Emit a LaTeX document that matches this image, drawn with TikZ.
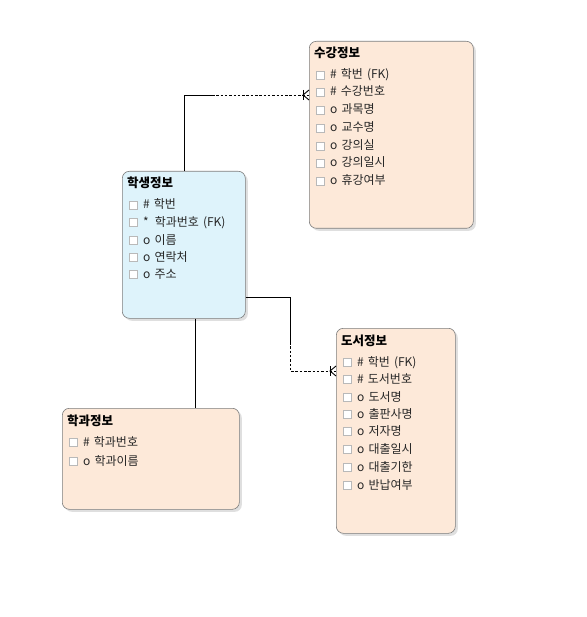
\documentclass[tikz,border=0pt]{standalone}
\usepackage{fontspec}
\setmainfont[WordSpace=1.5]{Noto Sans CJK KR}
\usetikzlibrary{shadows,calc}
\definecolor{peach}{RGB}{253,233,217}
\definecolor{skyf}{RGB}{222,243,251}
\definecolor{bordc}{RGB}{125,125,125}
\definecolor{cbx}{RGB}{185,185,185}
\tikzset{
  ent/.style={draw=bordc, line width=0.6pt, rounded corners=7pt, anchor=north west, inner sep=0pt,
    drop shadow={opacity=0.25, shadow xshift=2.5pt, shadow yshift=-2.5pt}},
  ttl/.style={anchor=base west, inner sep=0pt, font=\fontsize{12.5}{13}\selectfont\bfseries},
  rowt/.style={anchor=base west, inner sep=0pt, font=\fontsize{12}{12}\selectfont, text=black!85},
  cbox/.style={draw=cbx, fill=white, line width=0.5pt, minimum size=8pt, inner sep=0pt, anchor=center},
  conn/.style={line width=0.9pt, black},
  dconn/.style={line width=0.9pt, black, dash pattern=on 2.5pt off 1.8pt},
}
\newcommand{\entrow}[5]{% name, x, y(base), text
  \node[cbox] (#1-cb) at (#2+4,#3-4) {};
  \node[rowt] (#1) at (#2+14,#3) {#4};
}
\begin{document}
\begin{tikzpicture}[x=1pt,y=-1pt]
\useasboundingbox[fill=white] (0,0) rectangle (586,617);

% entities
\node[ent, fill=peach, minimum width=164pt, minimum height=187pt] (su) at (309,41) {};
\node[ent, fill=skyf, minimum width=123pt, minimum height=147pt] (hs) at (122,171) {};
\node[ent, fill=peach, minimum width=119pt, minimum height=205pt] (ds) at (336,328) {};
\node[ent, fill=peach, minimum width=177pt, minimum height=101pt] (hg) at (62,408) {};

% 수강정보
\node[ttl] (su-t) at (314,58) {수강정보};
\entrow{su1}{316}{79}{\# 학번 (FK)}{}
\entrow{su2}{316}{96}{\# 수강번호}{}
\entrow{su3}{316}{114}{o 과목명}{}
\entrow{su4}{316}{132}{o 교수명}{}
\entrow{su5}{316}{150}{o 강의실}{}
\entrow{su6}{316}{167}{o 강의일시}{}
\entrow{su7}{316}{185}{o 휴강여부}{}

% 학생정보
\node[ttl] (hs-t) at (127,188) {학생정보};
\entrow{hs1}{129}{209}{\# 학번}{}
\entrow{hs2}{129}{226}{*\, 학과번호 (FK)}{}
\entrow{hs3}{129}{244}{o 이름}{}
\entrow{hs4}{129}{261}{o 연락처}{}
\entrow{hs5}{129}{278}{o 주소}{}

% 도서정보
\node[ttl] (ds-t) at (341,345) {도서정보};
\entrow{ds1}{343}{366}{\# 학번 (FK)}{}
\entrow{ds2}{343}{383}{\# 도서번호}{}
\entrow{ds3}{343}{401}{o 도서명}{}
\entrow{ds4}{343}{418}{o 출판사명}{}
\entrow{ds5}{343}{435}{o 저자명}{}
\entrow{ds6}{343}{453}{o 대출일시}{}
\entrow{ds7}{343}{471}{o 대출기한}{}
\entrow{ds8}{343}{489}{o 반납여부}{}

% 학과정보
\node[ttl] (hg-t) at (67,425) {학과정보};
\entrow{hg1}{69}{446}{\# 학과번호}{}
\entrow{hg2}{69}{465}{o 학과이름}{}

% connector 학생정보 -> 수강정보
\coordinate (a0) at ($(hs.north west)+(62,0)$);
\coordinate (a1) at (184,95);
\coordinate (a2) at (212,95);
\coordinate (a3) at (su.west |- a1);
\coordinate (a4) at ($(a3)+(-6,0)$);
\draw[conn] (a0) |- (a2);
\draw[dconn] (a2) -- (a3);
\draw[conn] ($(a4)+(0,-5)$) -- ($(a4)+(0,5)$);
\draw[conn] ($(a3)+(0,-5)$) -- (a4) -- ($(a3)+(0,5)$);

% connector 학생정보 -> 도서정보
\coordinate (b0) at (hs.east |- 0,297);
\coordinate (b1) at (290,297);
\coordinate (b2) at (290,342);
\coordinate (b3) at (290,371);
\coordinate (b4) at (ds.west |- b3);
\coordinate (b5) at ($(b4)+(-6,0)$);
\draw[conn] (b0) -- (b1) -- (b2);
\draw[dconn] (b2) -- (b3) -- (b4);
\draw[conn] ($(b5)+(0,-5)$) -- ($(b5)+(0,5)$);
\draw[conn] ($(b4)+(0,-5)$) -- (b5) -- ($(b4)+(0,5)$);

% connector 학생정보 -> 학과정보
\coordinate (c0) at ($(hs.south west)+(73,0)$);
\draw[conn] (c0) -- (c0 |- hg.north);
\end{tikzpicture}
\end{document}
